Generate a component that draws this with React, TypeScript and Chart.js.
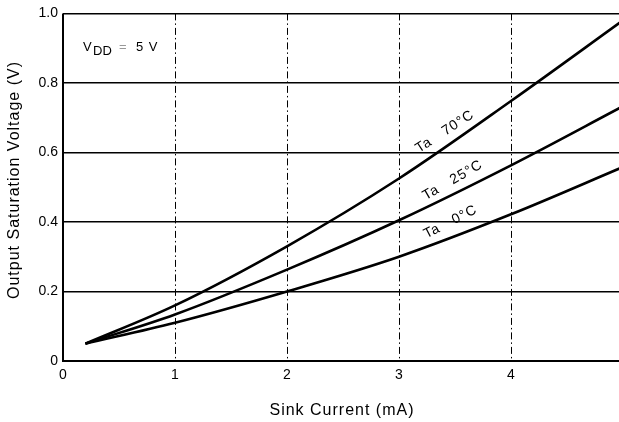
import React, { useEffect, useRef } from "react";
import { Chart, registerables } from "chart.js";

Chart.register(...registerables);

const sinkCurrent = [0.2, 1, 2, 3, 4, 5];
const ta70 = [0.05, 0.16, 0.33, 0.525, 0.748, 0.98];
const ta25 = [0.05, 0.134, 0.263, 0.405, 0.563, 0.733];
const ta0 = [0.05, 0.11, 0.2, 0.3, 0.422, 0.558];
const seriesNames = ["Ta 70°C", "Ta 25°C", "Ta 0°C"];
const labelAnchorX = [3.41, 3.48, 3.46];
const labelAnchorY = [0.66, 0.52, 0.4];
const labelAngles = [-33, -30, -27];
const xTicks = [0, 1, 2, 3, 4, 5];
const yTicks = [0, 0.2, 0.4, 0.6, 0.8, 1.0];

const FONT = "'Liberation Sans', Arial, Helvetica, sans-serif";

const decorPlugin = {
  id: "decor",
  afterDraw(chart: any) {
    const { ctx, chartArea, scales } = chart;
    const xs = scales.x;
    const ys = scales.y;
    ctx.save();
    // axes
    ctx.strokeStyle = "#000";
    ctx.lineWidth = 2;
    ctx.beginPath();
    ctx.moveTo(chartArea.left, chartArea.top);
    ctx.lineTo(chartArea.left, chartArea.bottom);
    ctx.lineTo(chartArea.right, chartArea.bottom);
    ctx.stroke();

    // curve labels
    ctx.fillStyle = "#000";
    ctx.font = `14px ${FONT}`;
    (ctx as any).letterSpacing = "1px";
    ctx.textAlign = "center";
    ctx.textBaseline = "middle";
    for (let i = 0; i < seriesNames.length; i++) {
      const px = xs.getPixelForValue(labelAnchorX[i]);
      const py = ys.getPixelForValue(labelAnchorY[i]);
      ctx.save();
      ctx.translate(px, py);
      ctx.rotate((labelAngles[i] * Math.PI) / 180);
      const parts = seriesNames[i].split(" ");
      ctx.fillText(parts[0] + "   " + parts[1], 0, 0);
      ctx.restore();
    }

    // VDD label
    ctx.textAlign = "left";
    ctx.textBaseline = "alphabetic";
    ctx.font = `13px ${FONT}`;
    (ctx as any).letterSpacing = "0px";
    const vx = chartArea.left + 20;
    const vy = chartArea.top + 38;
    ctx.fillText("V", vx, vy);
    ctx.font = `13px ${FONT}`;
    ctx.fillText("DD", vx + 10, vy + 4);
    ctx.fillStyle = "#999";
    ctx.fillText("=", vx + 36, vy);
    ctx.fillStyle = "#000";
    (ctx as any).letterSpacing = "1px";
    ctx.fillText("5 V", vx + 53, vy);

    // axis titles
    ctx.font = `16px ${FONT}`;
    (ctx as any).letterSpacing = "1px";
    ctx.textAlign = "center";
    ctx.textBaseline = "middle";
    ctx.fillText("Sink Current (mA)", 342, 411);
    ctx.save();
    ctx.translate(15, 180);
    ctx.rotate(-Math.PI / 2);
    ctx.fillText("Output Saturation Voltage (V)", 0, 0);
    ctx.restore();
    ctx.restore();
  },
};

export default function App() {
  const ref = useRef<HTMLCanvasElement | null>(null);
  useEffect(() => {
    if (!ref.current) return;
    const mk = (data: number[]) => sinkCurrent.map((x, i) => ({ x, y: data[i] }));
    const ds = (label: string, data: number[]) => ({
      label,
      data: mk(data),
      borderColor: "#000",
      backgroundColor: "#000",
      borderWidth: 2.6,
      pointRadius: 0,
      cubicInterpolationMode: "monotone" as const,
      fill: false,
    });
    const chart = new Chart(ref.current, {
      type: "line",
      data: {
        datasets: [
          ds(seriesNames[0], ta70),
          ds(seriesNames[1], ta25),
          ds(seriesNames[2], ta0),
        ],
      },
      options: {
        animation: false,
        responsive: false,
        devicePixelRatio: 1,
        layout: { padding: { top: 13, right: 17, left: 0, bottom: 0 } },
        plugins: { legend: { display: false }, tooltip: { enabled: false } },
        scales: {
          x: {
            type: "linear",
            min: 0,
            max: 5,
            afterFit: (s: any) => {
              s.height = 61;
            },
            afterBuildTicks: (s: any) => {
              s.ticks = xTicks.map((v) => ({ value: v }));
            },
            ticks: {
              color: "#000",
              padding: 6,
              font: { family: FONT, size: 14 },
              callback: (v: any) => String(v),
            },
            grid: {
              color: (c: any) => (c.tick && c.tick.value === 0 ? "rgba(0,0,0,0)" : "#000"),
              lineWidth: 1,
              drawTicks: false,
            },
            border: { display: false, dash: [7, 3, 1.5, 3] },
          },
          y: {
            type: "linear",
            min: 0,
            max: 1,
            afterFit: (s: any) => {
              s.width = 63;
            },
            afterBuildTicks: (s: any) => {
              s.ticks = yTicks.map((v) => ({ value: v }));
            },
            ticks: {
              color: "#000",
              padding: 5,
              font: { family: FONT, size: 14 },
              callback: (v: any) => (v === 0 ? "0" : Number(v).toFixed(1)),
            },
            grid: { color: "#000", lineWidth: 1.5, drawTicks: false },
            border: { display: false },
          },
        },
      },
      plugins: [decorPlugin],
    });
    return () => chart.destroy();
  }, []);
  return (
    <div
      style={{
        position: "fixed",
        left: 0,
        top: 0,
        width: 619,
        height: 422,
        overflow: "hidden",
        background: "#fff",
      }}
    >
      <canvas ref={ref} width={640} height={422} style={{ display: "block" }} />
    </div>
  );
}
